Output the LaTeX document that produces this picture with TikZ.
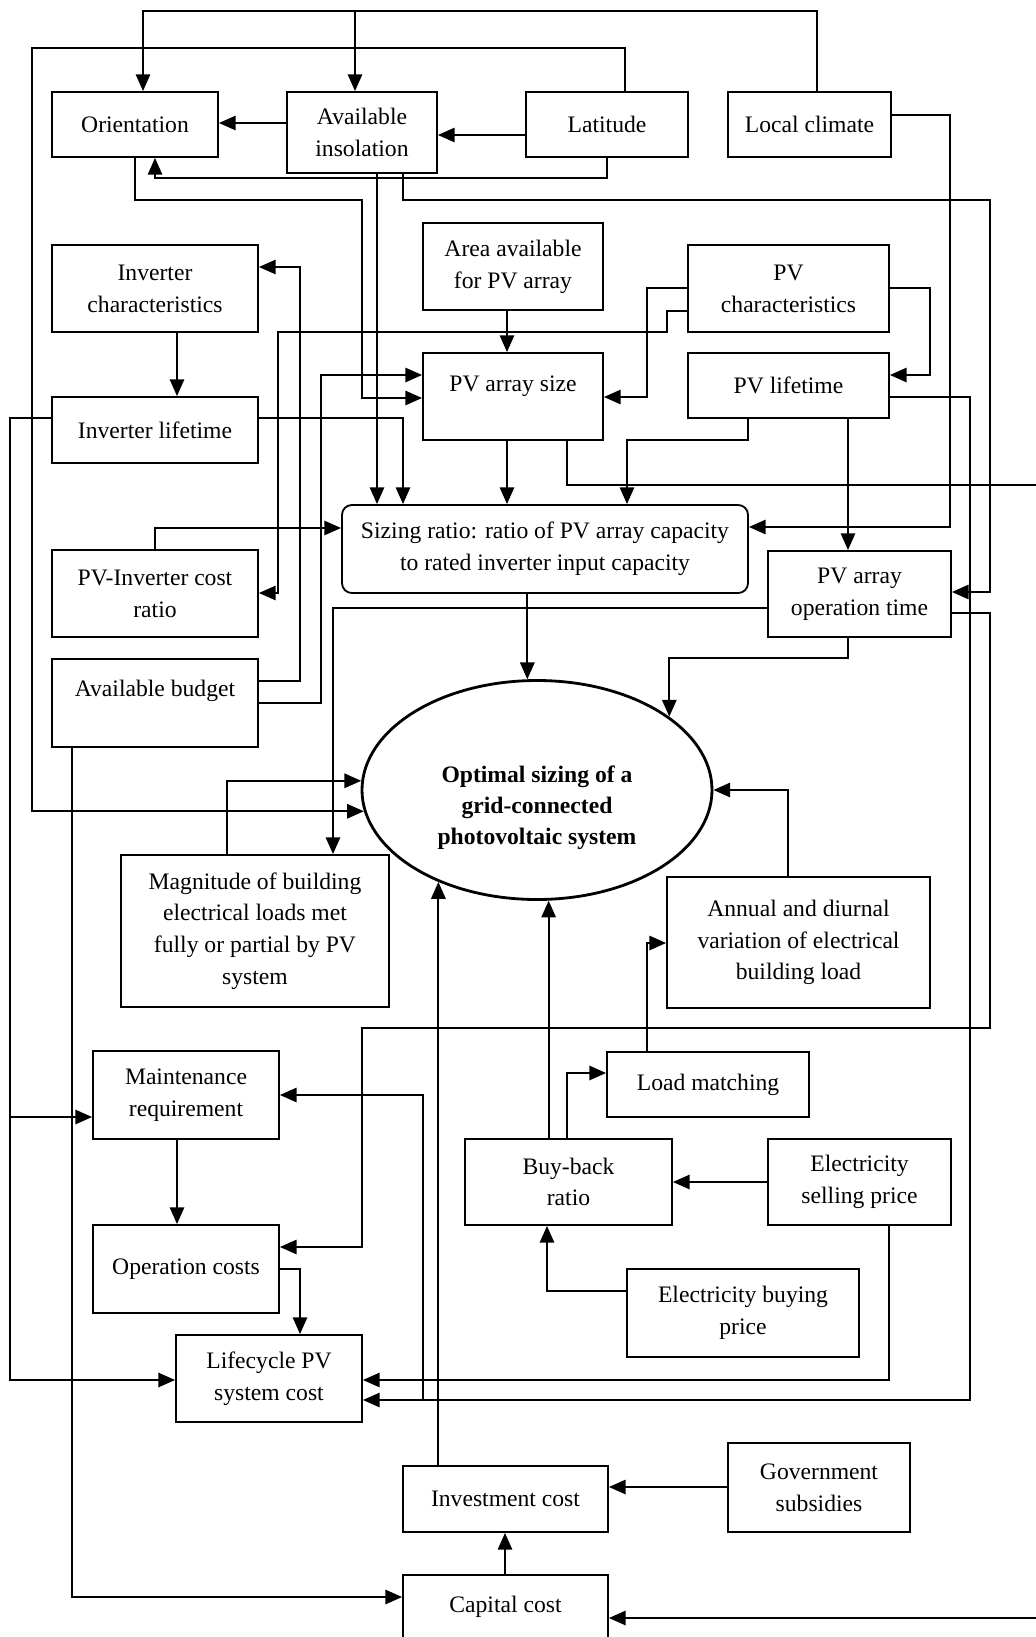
\documentclass[tikz,border=0pt]{standalone}
\usepackage{fontspec}
\setmainfont{Liberation Serif}
\usetikzlibrary{arrows.meta, shapes.geometric}

\begin{document}
\begin{tikzpicture}[
    x=0.025cm, y=-0.025cm,
    font=\fontsize{16.8}{22.6}\selectfont,
    box/.style={rectangle, draw, line width=1.3pt, align=center, inner sep=2pt},
    sz/.style 2 args={minimum width=#1*0.025cm, minimum height=#2*0.025cm},
    arrow/.style={line width=1.3pt, -{Triangle[length=4.2mm, width=3.6mm]}}
]
\useasboundingbox (0,0) rectangle (1035,1637);

\node[box, sz={166}{65}] (ori)  at (135,124.5)   {Orientation};
\node[box, sz={150}{81}] (ins)  at (362,132.5)   {Available\\insolation};
\node[box, sz={162}{65}] (lat)  at (607,124.5)   {Latitude};
\node[box, sz={163}{65}] (clim) at (809.5,124.5) {Local climate};
\node[box, sz={180}{87}] (area) at (513,266.5)   {Area available\\for PV array};
\node[box, sz={206}{87}] (invc) at (155,288.5)   {Inverter\\characteristics};
\node[box, sz={201}{87}] (pvc)  at (788.5,288.5) {PV\\characteristics};
\node[box, sz={180}{87}, text depth=0.65cm] (size) at (513,396.5) {PV array size};
\node[box, sz={201}{65}] (pvl)  at (788.5,385.5) {PV lifetime};
\node[box, sz={206}{66}] (invl) at (155,430)     {Inverter lifetime};
\node[box, rounded corners=7pt, sz={406}{88}] (sr) at (545,549)
    {Sizing ratio: ratio of PV array capacity\\to rated inverter input capacity};
\node[box, sz={206}{87}] (pic)  at (155,593.5)   {PV-Inverter cost\\ratio};
\node[box, sz={183}{86}] (opt)  at (859.5,594)   {PV array\\operation time};
\node[box, sz={206}{88}, text depth=0.75cm] (bud) at (155,703) {Available budget};
\node[ellipse, draw, line width=2pt, inner sep=0pt, align=center, sz={350}{219},
      font=\fontsize{16.8}{21.8}\selectfont\bfseries] (ell) at (537,790)
    {\strut\\Optimal sizing of a\\grid-connected\\photovoltaic system};
\node[box, sz={268}{152}] (mag)  at (255,931)     {Magnitude of building\\electrical loads met\\fully or partial by PV\\system};
\node[box, sz={263}{131}] (ann)  at (798.5,942.5) {Annual and diurnal\\variation of electrical\\building load};
\node[box, sz={202}{65}]  (lm)   at (708,1084.5)  {Load matching};
\node[box, sz={186}{88}]  (mnt)  at (186,1095)    {Maintenance\\requirement};
\node[box, sz={207}{86}]  (buy)  at (568.5,1182)  {Buy-back\\ratio};
\node[box, sz={183}{86}]  (sell) at (859.5,1182)  {Electricity\\selling price};
\node[box, sz={186}{88}]  (opc)  at (186,1269)    {Operation costs};
\node[box, sz={232}{88}]  (ebuy) at (743,1313)    {Electricity buying\\price};
\node[box, sz={186}{87}]  (lcc)  at (269,1378.5)  {Lifecycle PV\\system cost};
\node[box, sz={182}{89}]  (gov)  at (819,1487.5)  {Government\\subsidies};
\node[box, sz={205}{66}]  (inv)  at (505.5,1499)  {Investment cost};
\node[box, sz={205}{64}]  (cap)  at (505.5,1607)  {Capital cost};

\coordinate (j1) at (423,1400);
\coordinate (j2) at (10,1117);

\draw[arrow] (clim.north -| 817,0) -- (817,11) -| (ori.north -| 143,0);
\draw[arrow] (clim.north -| 817,0) |- (355,11) -- (ins.north -| 355,0);
\draw[arrow] (lat.north -| 625,0) |- (32,48) |- (ell.187);
\draw[arrow] (lat.west |- 0,135) -- (ins.east |- 0,135);
\draw[arrow] (ins.west |- 0,123) -- (ori.east |- 0,123);
\draw[arrow] (lat.south -| 607,0) |- (155,178) -- (ori.south -| 155,0);
\draw[arrow] (ori.south -| 135,0) |- (362,200) |- (size.west |- 0,398);
\draw[arrow] (ins.south -| 377,0) -- (sr.north -| 377,0);
\draw[arrow] (ins.south -| 403,0) |- (990,200) |- (opt.east |- 0,592);
\draw[arrow] (opt.east |- 0,613) -| (990,1028) -- (362,1028) |- (opc.east |- 0,1247);
\draw[arrow] (clim.east |- 0,115) -| (950,527) -- (sr.east |- 0,527);
\draw[arrow] (pvl.east |- 0,397) -| (970,1400) -- (lcc.east |- 0,1400);
\draw[arrow] (j1) |- (mnt.east |- 0,1095);
\draw[arrow] (sell.south -| 889,0) |- (lcc.east |- 0,1380);
\draw[arrow] (sell.west |- 0,1182) -- (buy.east |- 0,1182);
\draw[arrow] (ebuy.west |- 0,1291) -| (buy.south -| 547,0);
\draw[arrow] (buy.north -| 567,0) |- (lm.west |- 0,1073);
\draw[arrow] (lm.north -| 647,0) |- (ann.west |- 0,943);
\draw[arrow] (ann.north -| 788,0) |- (ell.east);
\draw[arrow] (buy.north -| ell.276) -- (ell.276);
\draw[arrow] (inv.north -| ell.223) -- (ell.223);
\draw[arrow] (gov.west |- 0,1487) -- (inv.east |- 0,1487);
\draw[arrow] (cap.north -| 505,0) -- (inv.south -| 505,0);
\draw[arrow] (bud.south -| 72,0) |- (cap.west |- 0,1597);
\draw[arrow] (size.south -| 567,0) |- (1038,485) |- (cap.east |- 0,1618);
\draw[arrow] (size.south -| 507,0) -- (sr.north -| 507,0);
\draw[arrow] (area.south -| 507,0) -- (size.north -| 507,0);
\draw[arrow] (pvl.south -| 748,0) |- (627,440) -- (sr.north -| 627,0);
\draw[arrow] (pvl.south -| 848,0) -- (opt.north -| 848,0);
\draw[arrow] (pvc.west |- 0,288) -| (647,397) -- (size.east |- 0,397);
\draw[arrow] (pvc.west |- 0,311) -| (667,332) -- (278,332) |- (pic.east |- 0,593);
\draw[arrow] (pvc.east |- 0,288) -| (930,375) -- (pvl.east |- 0,375);
\draw[arrow] (invc.south -| 177,0) -- (invl.north -| 177,0);
\draw[arrow] (invl.east |- 0,418) -| (sr.north -| 403,0);
\draw[arrow] (invl.west |- 0,418) -| (10,1380) -- (lcc.west |- 0,1380);
\draw[arrow] (j2) -- (mnt.west |- 0,1117);
\draw[arrow] (bud.east |- 0,681) -| (300,267) -- (invc.east |- 0,267);
\draw[arrow] (bud.east |- 0,703) -| (321,375) -- (size.west |- 0,375);
\draw[arrow] (pic.north -| 155,0) |- (sr.west |- 0,528);
\draw[arrow] (opt.west |- 0,608) -| (mag.north -| 333,0);
\draw[arrow] (mag.north -| 227,0) |- (ell.177);
\draw[arrow] (mnt.south -| 177,0) -- (opc.north -| 177,0);
\draw[arrow] (opc.east |- 0,1269) -| (lcc.north -| 300,0);
\draw[arrow] (sr.south -| ell.95) -- (ell.95);
\draw[arrow] (opt.south -| 848,0) -- (848,658) -| (ell.29);
\end{tikzpicture}
\end{document}
